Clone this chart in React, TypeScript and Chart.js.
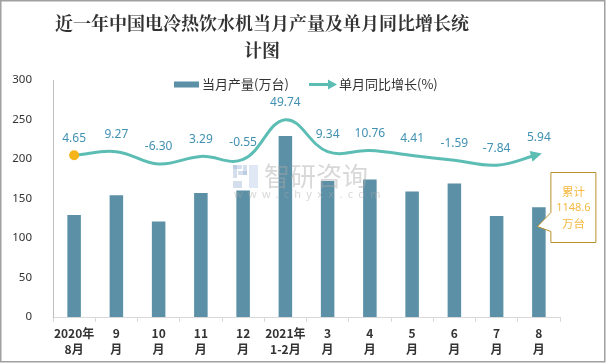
import React, { useEffect, useRef } from 'react';
import { Chart, registerables } from 'chart.js';

Chart.register(...registerables);

const categories: string[][] = [
  ['2020年', '8月'], ['9', '月'], ['10', '月'], ['11', '月'], ['12', '月'],
  ['2021年', '1-2月'], ['3', '月'], ['4', '月'], ['5', '月'], ['6', '月'], ['7', '月'], ['8', '月'],
];
const production = [129, 154, 121, 157, 160, 229, 172, 174, 159, 169, 128, 139];
const growth = [4.65, 9.27, -6.30, 3.29, -0.55, 49.74, 9.34, 10.76, 4.41, -1.59, -7.84, 5.94];
const growthLabels = ['4.65', '9.27', '-6.30', '3.29', '-0.55', '49.74', '9.34', '10.76', '4.41', '-1.59', '-7.84', '5.94'];
const yMin = 0;
const yMax = 300;
const yStep = 50;
const titleLines = ['近一年中国电冷热饮水机当月产量及单月同比增长统', '计图'];
const legendLabels = ['当月产量(万台)', '单月同比增长(%)'];
const calloutLines = ['累计', '1148.6', '万台'];
const watermarkText = '智研咨询';
const watermarkUrl = 'www.chyxx.com';

const BAR_COLOR = '#5b90a6';
const LINE_COLOR = '#5cbdb4';
const LABEL_COLOR = '#4191b2';
const TEXT_COLOR = '#333333';
const CJK = "'Noto Sans CJK SC', 'Noto Sans', sans-serif";

const decor = {
  id: 'decor',
  afterDatasetsDraw(chart: any) {
    const ctx: CanvasRenderingContext2D = chart.ctx;
    const meta = chart.getDatasetMeta(1);
    const pts = meta.data;
    const last = pts[pts.length - 1];
    const prev = pts[pts.length - 2];
    let cx = last.cp1x, cy = last.cp1y;
    if (cx === undefined || (cx === last.x && cy === last.y)) { cx = prev.x; cy = prev.y; }
    let dx = last.x - cx, dy = last.y - cy;
    const len = Math.hypot(dx, dy) || 1;
    dx /= len; dy /= len;
    const tipX = last.x + dx * 3, tipY = last.y + dy * 3;
    const back = 11, half = 5.5;
    const bx = tipX - dx * back, by = tipY - dy * back;
    ctx.save();
    ctx.fillStyle = LINE_COLOR;
    ctx.beginPath();
    ctx.moveTo(tipX, tipY);
    ctx.lineTo(bx - dy * half, by + dx * half);
    ctx.lineTo(bx + dy * half, by - dx * half);
    ctx.closePath();
    ctx.fill();

    // data labels
    ctx.font = `12px 'Noto Sans', sans-serif`;
    ctx.fillStyle = LABEL_COLOR;
    ctx.textAlign = 'center';
    ctx.textBaseline = 'middle';
    pts.forEach((p: any, i: number) => {
      ctx.fillText(growthLabels[i], p.x, p.y - 17);
    });

    // watermark
    ctx.globalAlpha = 0.45;
    ctx.fillStyle = '#9fb6d6';
    ctx.fillRect(233, 165, 9, 4);
    ctx.fillRect(233, 165, 4, 13);
    ctx.fillRect(238, 171, 9, 4);
    ctx.fillRect(243, 165, 4, 10);
    ctx.fillRect(233, 181, 9, 7);
    ctx.fillStyle = '#b9cde6';
    ctx.fillRect(249, 165, 9, 23);
    ctx.fillStyle = '#a8a8a8';
    ctx.font = `26px ${CJK}`;
    ctx.textAlign = 'left';
    ctx.fillText(watermarkText, 264, 176);
    ctx.font = `11px 'Noto Sans', sans-serif`;
    (ctx as any).letterSpacing = '5.3px';
    ctx.fillText(watermarkUrl, 234, 195);
    (ctx as any).letterSpacing = '0px';
    ctx.restore();
  },
  afterDraw(chart: any) {
    const ctx: CanvasRenderingContext2D = chart.ctx;
    ctx.save();
    // title
    ctx.fillStyle = TEXT_COLOR;
    ctx.font = `bold 18px 'Noto Serif CJK SC', ${CJK}`;
    ctx.textAlign = 'center';
    ctx.textBaseline = 'middle';
    ctx.fillText(titleLines[0], 262, 23);
    ctx.fillText(titleLines[1], 262, 50);

    // legend
    ctx.fillStyle = BAR_COLOR;
    ctx.fillRect(174, 81.5, 25, 6);
    ctx.font = `13px ${CJK}`;
    ctx.textAlign = 'left';
    ctx.fillStyle = TEXT_COLOR;
    ctx.fillText(legendLabels[0], 202, 84.5);
    ctx.strokeStyle = LINE_COLOR;
    ctx.lineWidth = 3;
    ctx.beginPath();
    ctx.moveTo(309, 84.5);
    ctx.lineTo(330, 84.5);
    ctx.stroke();
    ctx.fillStyle = LINE_COLOR;
    ctx.beginPath();
    ctx.moveTo(337, 84.5);
    ctx.lineTo(328, 79.5);
    ctx.lineTo(328, 89.5);
    ctx.closePath();
    ctx.fill();
    ctx.fillStyle = TEXT_COLOR;
    ctx.fillText(legendLabels[1], 339, 84.5);

    // callout
    const bars = chart.getDatasetMeta(0).data;
    const bar = bars[bars.length - 1];
    const left = bar.x + 12, right = bar.x + 57, top = 172.5, bottom = 242.5;
    ctx.beginPath();
    ctx.moveTo(left, top);
    ctx.lineTo(right, top);
    ctx.lineTo(right, bottom);
    ctx.lineTo(left, bottom);
    ctx.lineTo(left, 231.5);
    ctx.lineTo(bar.x - 1.5, 226.5);
    ctx.lineTo(left, 212.5);
    ctx.closePath();
    ctx.fillStyle = '#ffffff';
    ctx.fill();
    ctx.strokeStyle = '#b8912f';
    ctx.lineWidth = 1;
    ctx.stroke();
    ctx.fillStyle = '#f5b942';
    ctx.textAlign = 'center';
    const cxm = (left + right) / 2;
    ctx.font = `11.5px ${CJK}`;
    ctx.fillText(calloutLines[0], cxm, 192);
    ctx.font = `11px 'Noto Sans', sans-serif`;
    ctx.fillText(calloutLines[1], cxm, 208);
    ctx.font = `11.5px ${CJK}`;
    ctx.fillText(calloutLines[2], cxm, 224);

    // outer border
    ctx.strokeStyle = '#a0a0a0';
    ctx.lineWidth = 1.5;
    ctx.strokeRect(0.75, 0.75, 604, 361);
    ctx.restore();
  },
};

export default function App() {
  const ref = useRef<HTMLCanvasElement>(null);
  useEffect(() => {
    document.body.style.margin = '0';
    const canvas = ref.current!;
    const chart = new Chart(canvas, {
      data: {
        labels: categories,
        datasets: [
          {
            type: 'bar',
            label: legendLabels[0],
            data: production,
            backgroundColor: BAR_COLOR,
            yAxisID: 'y',
            barPercentage: 0.32,
            categoryPercentage: 1,
            order: 1,
          },
          {
            type: 'line',
            label: legendLabels[1],
            data: growth,
            borderColor: LINE_COLOR,
            borderWidth: 3,
            tension: 0.4,
            yAxisID: 'y1',
            pointRadius: growth.map((_, i) => (i === 0 ? 5 : 0)),
            pointBackgroundColor: '#f4b41a',
            pointBorderWidth: 0,
            pointHoverRadius: 0,
            order: 0,
          },
        ],
      } as any,
      options: {
        responsive: false,
        animation: false,
        devicePixelRatio: 1,
        layout: { padding: { top: 80, right: 46, left: 0, bottom: 0 } },
        plugins: { legend: { display: false }, tooltip: { enabled: false }, title: { display: false } },
        scales: {
          x: {
            offset: true,
            grid: { display: true, drawOnChartArea: false, drawTicks: true, tickLength: 5, color: '#d9d9d9', offset: true },
            border: { display: true, color: '#d9d9d9' },
            ticks: {
              color: TEXT_COLOR,
              font: { family: CJK, size: 12, weight: 'bold', lineHeight: 1.35 },
              padding: 3,
              maxRotation: 0,
              autoSkip: false,
            },
            afterFit: (s: any) => { s.height = 46; },
          },
          y: {
            min: yMin,
            max: yMax,
            grid: { display: false },
            border: { display: true, color: '#bfbfbf' },
            ticks: { stepSize: yStep, color: TEXT_COLOR, font: { family: "'Noto Sans', sans-serif", size: 11.5 }, padding: 13 },
            afterFit: (s: any) => { s.width = 53; },
          },
          y1: {
            display: false,
            min: -200,
            max: 100,
          },
        },
      } as any,
      plugins: [decor],
    });
    return () => chart.destroy();
  }, []);
  return (
    <div style={{ position: 'absolute', left: 0, top: 0, width: 606, height: 363, background: '#fff' }}>
      <canvas ref={ref} width={606} height={363} />
    </div>
  );
}
